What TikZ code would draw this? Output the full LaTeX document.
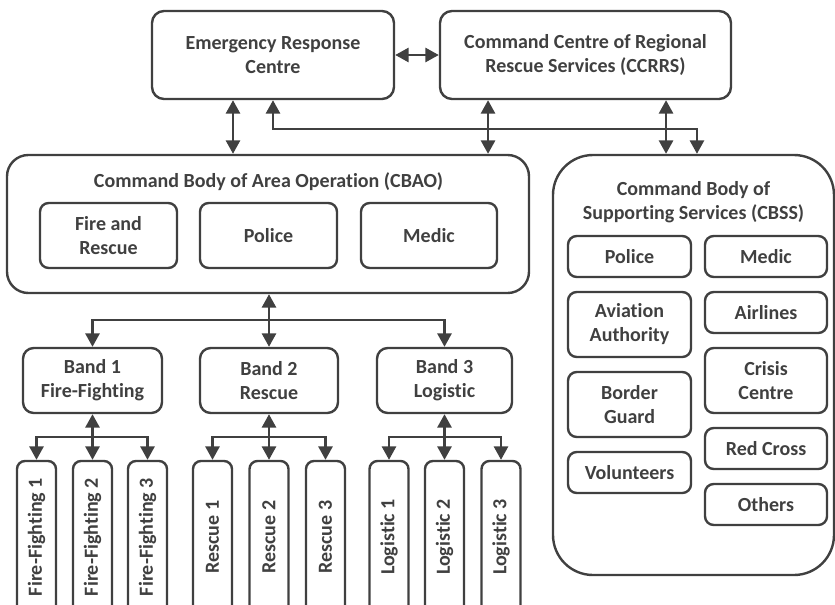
\documentclass[tikz,border=0pt]{standalone}
\usepackage{fontspec}
\setmainfont[RawFeature=-liga]{Carlito}
\usetikzlibrary{arrows.meta}
\definecolor{ink}{RGB}{64,64,64}
\begin{document}
\begin{tikzpicture}[x=0.75pt,y=-0.75pt,
  every node/.style={text=ink, font=\fontsize{15}{18}\selectfont\bfseries},
  % a frame given by its left, top, right and bottom edges
  area/.style n args={4}{minimum width={(#3-#1)*0.75pt}, minimum height={(#4-#2)*0.75pt},
    at={({(#1+#3)/2},{(#2+#4)/2})}},
  box/.style={draw=ink, line width=1.8pt, rounded corners=8pt, inner sep=0pt, align=center},
  card/.style={box, rounded corners=6.5pt},
  tall/.style={draw=ink, line width=1.8pt, rounded corners=6pt, rotate=90,
    minimum width=114pt, minimum height=29.25pt, inner sep=0pt},
  tip/.tip={Triangle[length=10pt,width=10.5pt]},
  link/.style={draw=ink, line width=1.8pt, -tip},
  both/.style={draw=ink, line width=1.8pt, tip-tip},
  heading/.style={inner sep=0pt, align=center}]
\useasboundingbox (0,0) rectangle (835,604);
\clip (0,0) rectangle (835,604);

% top level centres
\node[box, rounded corners=9pt, area={152}{11}{394}{99}] (erc) {Emergency Response\\Centre};
\node[box, rounded corners=9pt, area={440}{11}{731}{99}] (ccrrs) {Command Centre of Regional\\Rescue Services (CCRRS)};

% area operation body
\node[box, rounded corners=16pt, area={7}{155}{529}{293}] (cbao) {};
\node[heading, anchor=base] (cbaot) at (268.5,187) {Command Body of Area Operation (CBAO)};
\node[card, area={40}{203}{177}{268}] (cfr) {Fire and\\Rescue};
\node[card, area={200}{203}{337}{268}] (cpol) {Police};
\node[card, area={361}{203}{497}{268}] (cmed) {Medic};

% supporting services body
\node[box, rounded corners=30pt, area={553}{155}{834}{575}] (cbss) {};
\node[heading] (cbsst) at (693.5,202) {Command Body of\\Supporting Services (CBSS)};
\node[card, area={568}{236}{691}{277}] (spol) {Police};
\node[card, area={705}{236}{827}{277}] (smed) {Medic};
\node[card, area={568}{292}{691}{357}] (savi) {Aviation\\Authority};
\node[card, area={705}{292}{827}{333}] (sair) {Airlines};
\node[card, area={705}{348}{827}{413}] (scri) {Crisis\\Centre};
\node[card, area={568}{372}{691}{437}] (sbor) {Border\\Guard};
\node[card, area={568}{452}{691}{493}] (svol) {Volunteers};
\node[card, area={705}{428}{827}{469}] (sred) {Red Cross};
\node[card, area={705}{484}{827}{525}] (soth) {Others};

% bands
\node[box, area={23}{348}{162}{413}] (b1) {Band 1\\Fire-Fighting};
\node[box, area={200}{348}{338}{413}] (b2) {Band 2\\Rescue};
\node[box, area={377}{348}{512}{413}] (b3) {Band 3\\Logistic};

% units
\node[tall] (f1) at (36.5,537) {Fire-Fighting 1};
\node[tall] (f2) at (92.5,537) {Fire-Fighting 2};
\node[tall] (f3) at (147.5,537) {Fire-Fighting 3};
\node[tall] (r1) at (212.5,537) {Rescue 1};
\node[tall] (r2) at (269,537) {Rescue 2};
\node[tall] (r3) at (325.5,537) {Rescue 3};
\node[tall] (l1) at (389,537) {Logistic 1};
\node[tall] (l2) at (444.5,537) {Logistic 2};
\node[tall] (l3) at (501,537) {Logistic 3};

% junctions
\coordinate (bj) at (269,320);
\coordinate (j1) at (92.5,437);
\coordinate (j2) at (269,437);
\coordinate (j3) at (444.5,437);

% connectors between centres and bodies
\draw[both] (erc.east) -- (ccrrs.west);
\draw[both] ([xshift=-30pt]erc.south) -- ([xshift=-30pt]erc.south |- cbao.north);
\draw[both] (erc.south) -- ++(0,29) -| ([xshift=2.6pt]cbss.north);
\draw[both] ([xshift=-73.1pt]ccrrs.south) -- ([xshift=-73.1pt]ccrrs.south |- cbao.north);
\draw[both] ([xshift=60.4pt]ccrrs.south) -- ([xshift=60.4pt]ccrrs.south |- cbss.north);

% body to bands
\draw[both] (cbao.south -| b2.north) -- (b2.north);
\draw[link] (bj) -| (b1.north);
\draw[link] (bj) -| (b3.north);

% bands to units
\draw[both] (b1.south) -- (f2.east);
\draw[link] (j1) -| (f1.east);
\draw[link] (j1) -| (f3.east);
\draw[both] (b2.south) -- (r2.east);
\draw[link] (j2) -| (r1.east);
\draw[link] (j2) -| (r3.east);
\draw[both] (b3.south) -- (l2.east);
\draw[link] (j3) -| (l1.east);
\draw[link] (j3) -| (l3.east);
\end{tikzpicture}
\end{document}
